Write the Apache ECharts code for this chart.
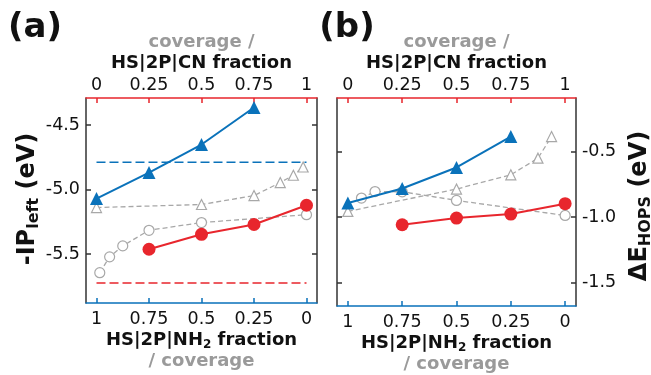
<!DOCTYPE html>
<html><head><meta charset="utf-8">
<script src="https://cdn.jsdelivr.net/npm/echarts@6/dist/echarts.min.js"></script>
<style>html,body{margin:0;padding:0;background:#fff}#c{width:651px;height:375px}</style>
</head><body><div id="c"></div>
<script>
// ---- data ----
const tickVals = [0, 0.25, 0.5, 0.75, 1];
const yTicksA = [-5.5, -5.0, -4.5];
const yTicksB = [-1.5, -1.0, -0.5];

// panel (a): -IP_left (eV) vs HS|2P|CN fraction
const xBlueA = [0, 0.25, 0.5, 0.75];
const yBlueA = [-5.070, -4.868, -4.651, -4.364];
const xRedA = [0.25, 0.5, 0.75, 1];
const yRedA = [-5.463, -5.347, -5.271, -5.122];
const xGrayTriA = [0, 0.5, 0.75, 0.875, 0.9375, 0.984];
const yGrayTriA = [-5.140, -5.116, -5.047, -4.946, -4.889, -4.825];
const xGrayCircA = [0.0156, 0.0625, 0.125, 0.25, 0.5, 1];
const yGrayCircA = [-5.645, -5.522, -5.437, -5.316, -5.256, -5.195];
const refX = [0, 1];
const refBlueA = -4.788;
const refRedA = -5.724;

// panel (b): ΔE_HOPS (eV)
const xBlueB = [0, 0.25, 0.5, 0.75];
const yBlueB = [-0.893, -0.782, -0.621, -0.385];
const xRedB = [0.25, 0.5, 0.75, 1];
const yRedB = [-1.059, -1.008, -0.977, -0.898];
const xGrayTriB = [0, 0.5, 0.75, 0.875, 0.9375];
const yGrayTriB = [-0.957, -0.786, -0.677, -0.550, -0.385];
const xGrayCircB = [0.0625, 0.125, 0.25, 0.5, 1];
const yGrayCircB = [-0.855, -0.805, -0.807, -0.873, -0.988];

// ---- styles ----
const BLUE = '#0a72ba', RED = '#e8262d', GRAY = '#a8a8a8', DARK = '#333';
const FONT = 'DejaVu Sans';
const TICKFS = 17.5;
const zip = (xs, ys) => xs.map((x, i) => [x, ys[i]]);
const fmtNum = v => String(Math.round(v * 100) / 100);

function xAx(grid, pos, color, inverse) {
  return {
    type: 'value', gridIndex: grid, position: pos, min: -0.05, max: 1.05, inverse: inverse,
    axisLine: {onZero: false, lineStyle: {color: color, width: 1.5}},
    axisTick: {inside: true, length: 5, lineStyle: {color: color, width: 1.5}, customValues: tickVals},
    axisLabel: {customValues: tickVals, formatter: fmtNum, fontSize: TICKFS, fontFamily: FONT, color: '#111', margin: pos === 'top' ? 4 : 7},
    splitLine: {show: false}
  };
}
function yAx(grid, pos, min, max, ticks, showLabel) {
  return {
    type: 'value', gridIndex: grid, position: pos, min: min, max: max,
    axisLine: {show: true, onZero: false, lineStyle: {color: DARK, width: 1.5}},
    axisTick: {show: true, inside: true, length: 5, lineStyle: {color: DARK, width: 1.5}, customValues: ticks},
    axisLabel: {show: showLabel, customValues: ticks, formatter: v => v.toFixed(1), fontSize: TICKFS, fontFamily: FONT, color: '#111', margin: 6},
    splitLine: {show: false}
  };
}
function solid(xi, yi, xs, ys, color, sym, z) {
  return {type: 'line', xAxisIndex: xi, yAxisIndex: yi, data: zip(xs, ys), symbol: sym, symbolSize: sym === 'triangle' ? 13 : 13,
    lineStyle: {color: color, width: 2}, itemStyle: {color: color}, z: z, animation: false};
}
function grayDash(xi, yi, xs, ys, sym) {
  return {type: 'line', xAxisIndex: xi, yAxisIndex: yi, data: zip(xs, ys), symbol: sym, symbolSize: 10,
    lineStyle: {color: GRAY, width: 1.3, type: [5, 3]}, itemStyle: {color: '#fff', borderColor: GRAY, borderWidth: 1.2}, z: 2, animation: false};
}
function refLine(xi, yi, yv, color) {
  return {type: 'line', xAxisIndex: xi, yAxisIndex: yi, data: refX.map(x => [x, yv]), symbol: 'none',
    lineStyle: {color: color, width: 1.5, type: [9, 4]}, z: 1, animation: false};
}

const titleStyle = {font: 'bold 18px "DejaVu Sans"', fill: '#111', textAlign: 'center', textVerticalAlign: 'middle'};
const grayStyle = {font: 'bold 18px "DejaVu Sans"', fill: '#9a9a9a', textAlign: 'center', textVerticalAlign: 'middle'};
function txt(x, y, text, st) { return {type: 'text', x: x, y: y, style: Object.assign({text: text}, st), z: 100}; }
function richTxt(x, y, text, rich, rot) {
  return {type: 'text', x: x, y: y, rotation: rot || 0, z: 100,
    style: {text: text, rich: rich, textAlign: 'center', textVerticalAlign: 'middle', fill: '#111', font: 'bold 22px "DejaVu Sans"'}};
}
const nhRich = {
  b: {fontSize: 18, fontWeight: 'bold', fontFamily: FONT, fill: '#111', lineHeight: 22},
  s: {fontSize: 12, fontWeight: 'bold', fontFamily: FONT, fill: '#111', lineHeight: 22, verticalAlign: 'bottom', padding: [6, 0, 0, 0]}
};
const yRich = {
  b: {fontSize: 24, fontWeight: 'bold', fontFamily: FONT, fill: '#111', lineHeight: 30},
  s: {fontSize: 16, fontWeight: 'bold', fontFamily: FONT, fill: '#111', lineHeight: 30, padding: [11, 0, 0, 0]}
};

const chart = echarts.init(document.getElementById('c'), null, {renderer: 'canvas'});
chart.setOption({
  backgroundColor: '#fff',
  animation: false,
  grid: [
    {left: 86, right: 334, top: 98, bottom: 72},
    {left: 337, right: 75, top: 98, bottom: 69}
  ],
  xAxis: [
    xAx(0, 'top', RED, false), xAx(0, 'bottom', BLUE, true),
    xAx(1, 'top', RED, false), xAx(1, 'bottom', BLUE, true)
  ],
  yAxis: [
    yAx(0, 'left', -5.88, -4.29, yTicksA, true), yAx(0, 'right', -5.88, -4.29, yTicksA, false),
    yAx(1, 'left', -1.68, -0.09, yTicksB, false), yAx(1, 'right', -1.68, -0.09, yTicksB, true)
  ],
  series: [
    refLine(0, 0, refBlueA, BLUE),
    refLine(0, 0, refRedA, RED),
    grayDash(0, 0, xGrayTriA, yGrayTriA, 'triangle'),
    grayDash(0, 0, xGrayCircA, yGrayCircA, 'circle'),
    solid(0, 0, xBlueA, yBlueA, BLUE, 'triangle', 5),
    solid(0, 0, xRedA, yRedA, RED, 'circle', 5),
    grayDash(2, 3, xGrayTriB, yGrayTriB, 'triangle'),
    grayDash(2, 3, xGrayCircB, yGrayCircB, 'circle'),
    solid(2, 3, xBlueB, yBlueB, BLUE, 'triangle', 5),
    solid(2, 3, xRedB, yRedB, RED, 'circle', 5)
  ],
  graphic: [
    txt(35, 28, '(a)', {font: 'bold 34px "DejaVu Sans"', fill: '#111', textAlign: 'center', textVerticalAlign: 'middle'}),
    txt(347, 28, '(b)', {font: 'bold 34px "DejaVu Sans"', fill: '#111', textAlign: 'center', textVerticalAlign: 'middle'}),
    txt(201.5, 42, 'coverage /', grayStyle),
    txt(201.5, 63, 'HS|2P|CN fraction', titleStyle),
    txt(456.5, 42, 'coverage /', grayStyle),
    txt(456.5, 63, 'HS|2P|CN fraction', titleStyle),
    richTxt(201.5, 340, '{b|HS|2P|NH}{s|2}{b| fraction}', nhRich),
    richTxt(456.5, 343, '{b|HS|2P|NH}{s|2}{b| fraction}', nhRich),
    txt(201.5, 361, '/ coverage', grayStyle),
    txt(456.5, 364, '/ coverage', grayStyle),
    richTxt(28, 199, '{b|-IP}{s|left}{b| (eV)}', yRich, Math.PI / 2),
    richTxt(640, 206, '{b|ΔE}{s|HOPS}{b| (eV)}', yRich, Math.PI / 2)
  ]
});
</script></body></html>
